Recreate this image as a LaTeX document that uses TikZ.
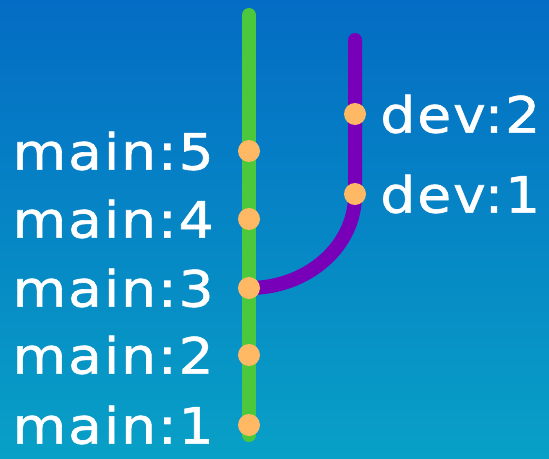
\documentclass[tikz,border=0pt]{standalone}
\usepackage{fontspec}
\usetikzlibrary{positioning}
\newfontfamily\labelfont[FakeStretch=1.1, LetterSpace=4, FakeBold=1.2]{DejaVu Sans}
\definecolor{bgtop}{RGB}{4,108,196}
\definecolor{bgbot}{RGB}{8,160,198}
\definecolor{mainline}{RGB}{76,200,60}
\definecolor{devline}{RGB}{120,0,185}
\definecolor{dotorange}{RGB}{255,184,100}

\begin{document}
\begin{tikzpicture}[x=1pt, y=-1pt,
    commit/.style={circle, fill=dotorange, inner sep=0pt, minimum size=22pt},
    tag/.style={text=white, inner sep=0pt, font=\labelfont\fontsize{50}{60}\selectfont},
    branch/.style={line width=14pt, line cap=round}]
        \shade[top color=bgtop, bottom color=bgbot] (0,0) rectangle (549,458);
        \useasboundingbox (0,0) rectangle (549,458);

        % branches
        \coordinate (mtop) at (249,15);
        \coordinate (mbot) at (249,435);
        \coordinate (dtop) at (355,40);
        \draw[branch, mainline] (mtop) -- (mbot);
        \draw[branch, devline] (dtop) -- (355,195) arc[start angle=0, end angle=90, x radius=106, y radius=93];

        % commits
        \node[commit] (m5) at (249,151) {};
        \node[commit] (m4) at (249,219) {};
        \node[commit] (m3) at (249,288) {};
        \node[commit] (m2) at (249,355) {};
        \node[commit] (m1) at (249,425) {};
        \node[commit] (d2) at (355,114) {};
        \node[commit] (d1) at (355,194) {};

        % labels
        \node[tag, left=24pt of m5] (l5) {main:5};
        \node[tag, left=24pt of m4] (l4) {main:4};
        \node[tag, left=24pt of m3] (l3) {main:3};
        \node[tag, left=24pt of m2] (l2) {main:2};
        \node[tag, left=24pt of m1] (l1) {main:1};
        \node[tag, right=14pt of d2] (ld2) {dev:2};
        \node[tag, right=14pt of d1] (ld1) {dev:1};
      \end{tikzpicture}
\end{document}
